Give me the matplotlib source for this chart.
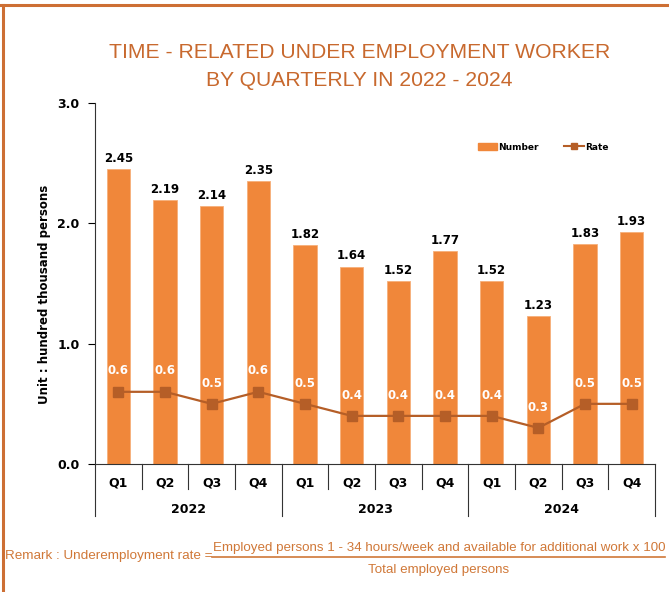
"""
Time-related underemployment workers by quarter, 2022 - 2024
"""

import matplotlib
matplotlib.use('Agg')
import matplotlib.pyplot as plt
from matplotlib.lines import Line2D
from matplotlib.patches import Patch

# data
anos = ['2022', '2023', '2024']
trimestres = ['Q1', 'Q2', 'Q3', 'Q4']
numero = [2.45, 2.19, 2.14, 2.35, 1.82, 1.64, 1.52, 1.77, 1.52, 1.23, 1.83, 1.93]
taxa = [0.6, 0.6, 0.5, 0.6, 0.5, 0.4, 0.4, 0.4, 0.4, 0.3, 0.5, 0.5]

COR_BARRA = '#F0873A'
COR_LINHA = '#B55E27'
COR_TITULO = '#C8692E'
COR_NOTA = '#D07838'

plt.rcParams['font.family'] = 'DejaVu Sans'

fig = plt.figure(figsize=(6.69, 5.92), dpi=100)
ax = fig.add_axes([0.142, 0.2162, 0.837, 0.6098])

x = list(range(len(numero)))
ax.bar(x, numero, 0.5, color=COR_BARRA, edgecolor='#F6B07A', linewidth=0.6, zorder=2)
ax.plot(x, taxa, color=COR_LINHA, linewidth=1.6, marker='s', markersize=7.5, zorder=3)

for i, v in enumerate(numero):
    ax.annotate(f'{v:.2f}', (i, v), xytext=(0, 3), textcoords='offset points',
                ha='center', va='bottom', fontsize=8.5, fontweight='bold', color='black')
for i, v in enumerate(taxa):
    ax.annotate(f'{v:.1f}', (i, v), xytext=(0, 15), textcoords='offset points',
                ha='center', va='center', fontsize=8.5, fontweight='bold', color='white', zorder=4)

ax.set_xlim(-0.5, len(numero) - 0.5)
ax.set_ylim(0, 3)
ax.set_yticks([0, 1, 2, 3])
ax.set_yticklabels([f'{t:.1f}' for t in [0, 1, 2, 3]], fontsize=9, fontweight='bold')
ax.tick_params(axis='y', length=5, width=0.8, pad=6)
ax.set_xticks([])
for lado in ['top', 'right']:
    ax.spines[lado].set_visible(False)
ax.spines['left'].set_color('#333333')
ax.spines['bottom'].set_color('#333333')

# eixo categorico em dois niveis
trans = ax.get_xaxis_transform()
n_q = len(trimestres)
for j, ano in enumerate(anos):
    for k, q in enumerate(trimestres):
        pos = j * n_q + k
        ax.text(pos, -0.053, q, transform=trans, ha='center', va='center',
                fontsize=9, fontweight='bold')
        if k > 0:
            ax.plot([pos - 0.5, pos - 0.5], [0, -0.069], transform=trans,
                    color='#333333', linewidth=0.8, clip_on=False)
    ax.text(j * n_q + 1.5, -0.125, ano, transform=trans, ha='center', va='center',
            fontsize=9, fontweight='bold')
for j in range(len(anos) + 1):
    xs = j * n_q - 0.5
    ax.plot([xs, xs], [0, -0.144], transform=trans, color='#333333',
            linewidth=0.8, clip_on=False)

ax.legend(handles=[Patch(color=COR_BARRA, label='Number'),
                   Line2D([0], [0], color=COR_LINHA, marker='s', markersize=5,
                          linewidth=1.5, label='Rate')],
          loc='center', bbox_to_anchor=(0.80, 0.878), ncol=2, frameon=False,
          prop={'size': 6.5, 'weight': 'bold'}, handlelength=2.2, handletextpad=0.1,
          columnspacing=2.8)

fig.text(0.067, 0.503, 'Unit : hundred thousand persons', rotation=90,
         ha='center', va='center', fontsize=8.5, fontweight='bold')

fig.text(0.537, 1 - 52 / 592, 'TIME - RELATED UNDER EMPLOYMENT WORKER', ha='center',
         va='center', fontsize=15.2, color=COR_TITULO, family='Liberation Sans')
fig.text(0.537, 1 - 80 / 592, 'BY QUARTERLY IN 2022 - 2024', ha='center',
         va='center', fontsize=15.2, color=COR_TITULO, family='Liberation Sans')

# nota de rodape com a formula
fig.text(5 / 669, 1 - 556 / 592, 'Remark : Underemployment rate =', ha='left', va='center',
         fontsize=9.7, color=COR_NOTA, family='Liberation Sans')
fig.text(439 / 669, 1 - 548 / 592,
         'Employed persons 1 - 34 hours/week and available for additional work x 100',
         ha='center', va='center', fontsize=9.6, color=COR_NOTA, family='Liberation Sans')
fig.text(439 / 669, 1 - 570 / 592, 'Total employed persons', ha='center', va='center',
         fontsize=9.6, color=COR_NOTA, family='Liberation Sans')
fig.add_artist(Line2D([212 / 669, 665 / 669], [1 - 557 / 592] * 2, color=COR_NOTA,
                      linewidth=1.2, transform=fig.transFigure))

# moldura
fig.add_artist(Line2D([0, 1], [1 - 5 / 592] * 2, color='#CD6F34', linewidth=2.2,
                      transform=fig.transFigure))
fig.add_artist(Line2D([3 / 669] * 2, [0, 1 - 5 / 592], color='#CD6F34', linewidth=2.2,
                      transform=fig.transFigure))

fig.savefig('out.png', dpi=100)
